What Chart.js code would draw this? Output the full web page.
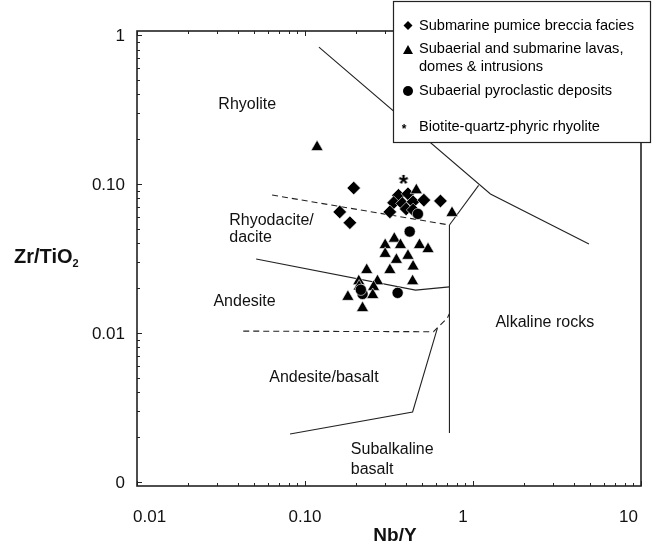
<!DOCTYPE html>
<html>
<head>
<meta charset="utf-8">
<script src="https://cdn.jsdelivr.net/npm/chart.js@4.4.1/dist/chart.umd.min.js"></script>
<style>
  body { margin: 0; background: #fff; }
</style>
</head>
<body>
<canvas id="myChart" width="652" height="555"></canvas>
<script>
// Nb/Y vs Zr/TiO2 classification plot

const pumiceNbY  = [0.195, 0.161, 0.185, 0.36, 0.41, 0.337, 0.38, 0.32, 0.40, 0.44, 0.51, 0.64, 0.44];
const pumiceZrTi = [0.094, 0.065, 0.055, 0.084, 0.086, 0.075, 0.074, 0.065, 0.068, 0.076, 0.078, 0.077, 0.067];

const lavaNbY  = [0.118, 0.46, 0.75, 0.34, 0.30, 0.37, 0.48, 0.54, 0.30, 0.35, 0.41, 0.44, 0.32, 0.233, 0.27, 0.437, 0.209, 0.256, 0.18, 0.253, 0.22, 0.21];
const lavaZrTi = [0.177, 0.091, 0.064, 0.043, 0.039, 0.039, 0.039, 0.0366, 0.034, 0.031, 0.033, 0.028, 0.0265, 0.0265, 0.0223, 0.0223, 0.0223, 0.0204, 0.0175, 0.018, 0.0147, 0.0205];

const pyroNbY  = [0.47, 0.42, 0.356, 0.22, 0.215];
const pyroZrTi = [0.063, 0.048, 0.0186, 0.0183, 0.0195];

const bqpNbY  = [0.386];
const bqpZrTi = [0.11];

// field boundaries
const edgeTopX = [0.121, 1.27, 4.9];
const edgeTopY = [0.83, 0.0857, 0.0396];
const edgeMidX = [1.08, 0.724];
const edgeMidY = [0.098, 0.0531];
const edgeVertX = [0.724, 0.724];
const edgeVertY = [0.0531, 0.00213];
const dashUpX = [0.0637, 0.724];
const dashUpY = [0.0844, 0.0531];
const andesiteX = [0.0512, 0.455, 0.724];
const andesiteY = [0.0314, 0.0194, 0.0204];
const dashLowX = [0.0429, 0.582, 0.622, 0.704, 0.722];
const dashLowY = [0.0103, 0.0102, 0.011, 0.0126, 0.0134];
const basaltX = [0.0815, 0.437, 0.614];
const basaltY = [0.0021, 0.00295, 0.0108];

// field names
const fieldNames = ['Rhyolite', 'Rhyodacite/', 'dacite', 'Andesite', 'Alkaline rocks', 'Andesite/basalt', 'Subalkaline', 'basalt'];
const fieldX = [0.0453, 0.0354, 0.0354, 0.0285, 1.36, 0.1296, 0.1874, 0.1874];
const fieldY = [0.344, 0.0565, 0.0434, 0.01615, 0.01167, 0.00499, 0.00164, 0.00122];
const fieldAlign = ['center', 'left', 'left', 'left', 'left', 'center', 'left', 'left'];

const xMajor = [0.01, 0.1, 1, 10];
const xMajorLabels = ['0.01', '0.10', '1', '10'];
const yMajor = [0.001, 0.01, 0.1, 1];
const yMajorLabels = ['0', '0.01', '0.10', '1'];

const legendLabels = [['Submarine pumice breccia facies'], ['Subaerial and submarine lavas,', 'domes & intrusions'], ['Subaerial pyroclastic deposits'], ['Biotite-quartz-phyric rhyolite']];

const FONT = '"Liberation Sans", Arial, sans-serif';

function pts(xs, ys) {
    return xs.map((x, i) => ({x: x, y: ys[i]}));
}

function withMinors(majors) {
    const out = [];
    majors.forEach((m, i) => {
        out.push(m);
        if (i < majors.length - 1) {
            for (let k = 2; k <= 9; k++) out.push(m * k);
        }
    });
    return out;
}

const xTicks = withMinors(xMajor);
const yTicks = withMinors(yMajor);

function isMajor(v, majors) {
    return majors.some(m => Math.abs(v / m - 1) < 1e-6);
}

// asterisk marker
const starImg = document.createElement('canvas');
starImg.width = 16; starImg.height = 16;
const sctx = starImg.getContext('2d');
sctx.fillStyle = '#000';
sctx.font = 'bold 24px ' + FONT;
sctx.textAlign = 'center';
sctx.textBaseline = 'alphabetic';
sctx.fillText('*', 8, 22);

function boundary(xs, ys, dashed) {
    return {
        data: pts(xs, ys),
        showLine: true,
        pointRadius: 0,
        borderColor: '#222',
        borderWidth: 1.1,
        borderDash: dashed ? [6, 4] : [],
        fill: false,
        tension: 0
    };
}

const chartDecor = {
    id: 'chartDecor',
    beforeDatasetsDraw(chart) {
        const ctx = chart.ctx;
        const xs = chart.scales.x, ys = chart.scales.y;
        ctx.save();
        ctx.fillStyle = '#111';
        ctx.font = '16px ' + FONT;
        ctx.textBaseline = 'middle';
        fieldNames.forEach((t, i) => {
            ctx.textAlign = fieldAlign[i];
            ctx.fillText(t, xs.getPixelForValue(fieldX[i]), ys.getPixelForValue(fieldY[i]));
        });
        ctx.restore();
    },
    afterDraw(chart) {
        const ctx = chart.ctx;
        const a = chart.chartArea;
        const xs = chart.scales.x, ys = chart.scales.y;
        ctx.save();
        // frame
        ctx.strokeStyle = '#222';
        ctx.lineWidth = 1.6;
        ctx.strokeRect(a.left, a.top, a.right - a.left, a.bottom - a.top);
        // inward ticks
        ctx.lineWidth = 1;
        ctx.beginPath();
        xTicks.forEach(v => {
            const px = Math.round(xs.getPixelForValue(v)) + 0.5;
            const len = isMajor(v, xMajor) ? 5 : 3;
            ctx.moveTo(px, a.bottom); ctx.lineTo(px, a.bottom - len);
            ctx.moveTo(px, a.top); ctx.lineTo(px, a.top + len);
        });
        yTicks.forEach(v => {
            const py = Math.round(ys.getPixelForValue(v)) + 0.5;
            const len = isMajor(v, yMajor) ? 5 : 3;
            ctx.moveTo(a.left, py); ctx.lineTo(a.left + len, py);
        });
        ctx.stroke();

        // tick labels
        ctx.fillStyle = '#111';
        ctx.font = '17px ' + FONT;
        ctx.textBaseline = 'middle';
        ctx.textAlign = 'right';
        yMajor.forEach((v, i) => {
            ctx.fillText(yMajorLabels[i], a.left - 12, ys.getPixelForValue(v) + 1);
        });
        const shift = [-4, 0, -10, -3];
        xMajor.forEach((v, i) => {
            const last = xMajor.length - 1;
            ctx.textAlign = i === 0 ? 'left' : (i === last ? 'right' : 'center');
            ctx.fillText(xMajorLabels[i], xs.getPixelForValue(v) + shift[i], 517);
        });

        // axis titles
        ctx.font = 'bold 19px ' + FONT;
        ctx.textAlign = 'center';
        ctx.fillText('Nb/Y', 395, 536);
        ctx.textAlign = 'left';
        ctx.font = 'bold 20px ' + FONT;
        ctx.fillText('Zr/TiO', 14, 257);
        const w = ctx.measureText('Zr/TiO').width;
        ctx.font = 'bold 11px ' + FONT;
        ctx.fillText('2', 14 + w, 264);

        // legend
        const L = 393, T = 1, R = 650, B = 142;
        ctx.fillStyle = '#fff';
        ctx.fillRect(L, T, R - L, B - T);
        ctx.strokeStyle = '#222';
        ctx.lineWidth = 1.2;
        ctx.strokeRect(L + 0.5, T + 0.5, R - L, B - T);
        ctx.fillStyle = '#000';
        // diamond
        ctx.beginPath();
        ctx.moveTo(408, 21); ctx.lineTo(412.5, 25.5); ctx.lineTo(408, 30); ctx.lineTo(403.5, 25.5);
        ctx.closePath(); ctx.fill();
        // triangle
        ctx.beginPath();
        ctx.moveTo(408, 45); ctx.lineTo(413, 54); ctx.lineTo(403, 54);
        ctx.closePath(); ctx.fill();
        // circle
        ctx.beginPath();
        ctx.arc(408, 91, 5, 0, Math.PI * 2); ctx.fill();
        // star
        ctx.font = 'bold 12px ' + FONT;
        ctx.textAlign = 'center';
        ctx.textBaseline = 'alphabetic';
        ctx.fillText('*', 404, 133);

        ctx.font = '14.6px ' + FONT;
        ctx.textAlign = 'left';
        ctx.textBaseline = 'middle';
        const rows = [[26], [49, 67], [91], [127]];
        legendLabels.forEach((lines, i) => {
            lines.forEach((t, j) => ctx.fillText(t, 419, rows[i][j]));
        });
        ctx.restore();
    }
};

const getChart = document.getElementById('myChart').getContext('2d');
const mychart = new Chart(getChart, {
    type: 'scatter',
    data: {
        datasets: [
            {
                label: 'Biotite-quartz-phyric rhyolite',
                data: pts(bqpNbY, bqpZrTi),
                pointStyle: starImg,
                pointRadius: 8
            },
            {
                label: 'Subaerial pyroclastic deposits',
                data: pts(pyroNbY, pyroZrTi),
                pointStyle: 'circle',
                pointRadius: 5.6,
                backgroundColor: '#000',
                borderColor: '#fff',
                borderWidth: 0.6
            },
            {
                label: 'Subaerial and submarine lavas, domes & intrusions',
                data: pts(lavaNbY, lavaZrTi),
                pointStyle: 'triangle',
                pointRadius: 7,
                backgroundColor: '#000',
                borderColor: '#fff',
                borderWidth: 0.6
            },
            {
                label: 'Submarine pumice breccia facies',
                data: pts(pumiceNbY, pumiceZrTi),
                pointStyle: 'rectRot',
                pointRadius: 6.8,
                backgroundColor: '#000',
                borderColor: '#fff',
                borderWidth: 0.6
            },
            boundary(edgeTopX, edgeTopY, false),
            boundary(edgeMidX, edgeMidY, false),
            boundary(edgeVertX, edgeVertY, false),
            boundary(dashUpX, dashUpY, true),
            boundary(andesiteX, andesiteY, false),
            boundary(dashLowX, dashLowY, true),
            boundary(basaltX, basaltY, false)
        ]
    },
    options: {
        responsive: false,
        animation: false,
        layout: {
            autoPadding: false,
            padding: {left: 0, right: 11, top: 31, bottom: 0}
        },
        scales: {
            x: {
                type: 'logarithmic',
                min: 0.01,
                max: 10,
                afterBuildTicks: s => { s.ticks = xTicks.map(v => ({value: v})); },
                afterFit: s => { s.height = 69; },
                grid: {display: false, drawTicks: false},
                border: {display: false},
                ticks: {display: false}
            },
            y: {
                type: 'logarithmic',
                min: 0.00094,
                max: 1.065,
                afterBuildTicks: s => { s.ticks = yTicks.map(v => ({value: v})); },
                afterFit: s => { s.width = 137; },
                grid: {display: false, drawTicks: false},
                border: {display: false},
                ticks: {display: false}
            }
        },
        plugins: {
            legend: {display: false},
            tooltip: {enabled: false}
        }
    },
    plugins: [chartDecor]
});
</script>
</body>
</html>
